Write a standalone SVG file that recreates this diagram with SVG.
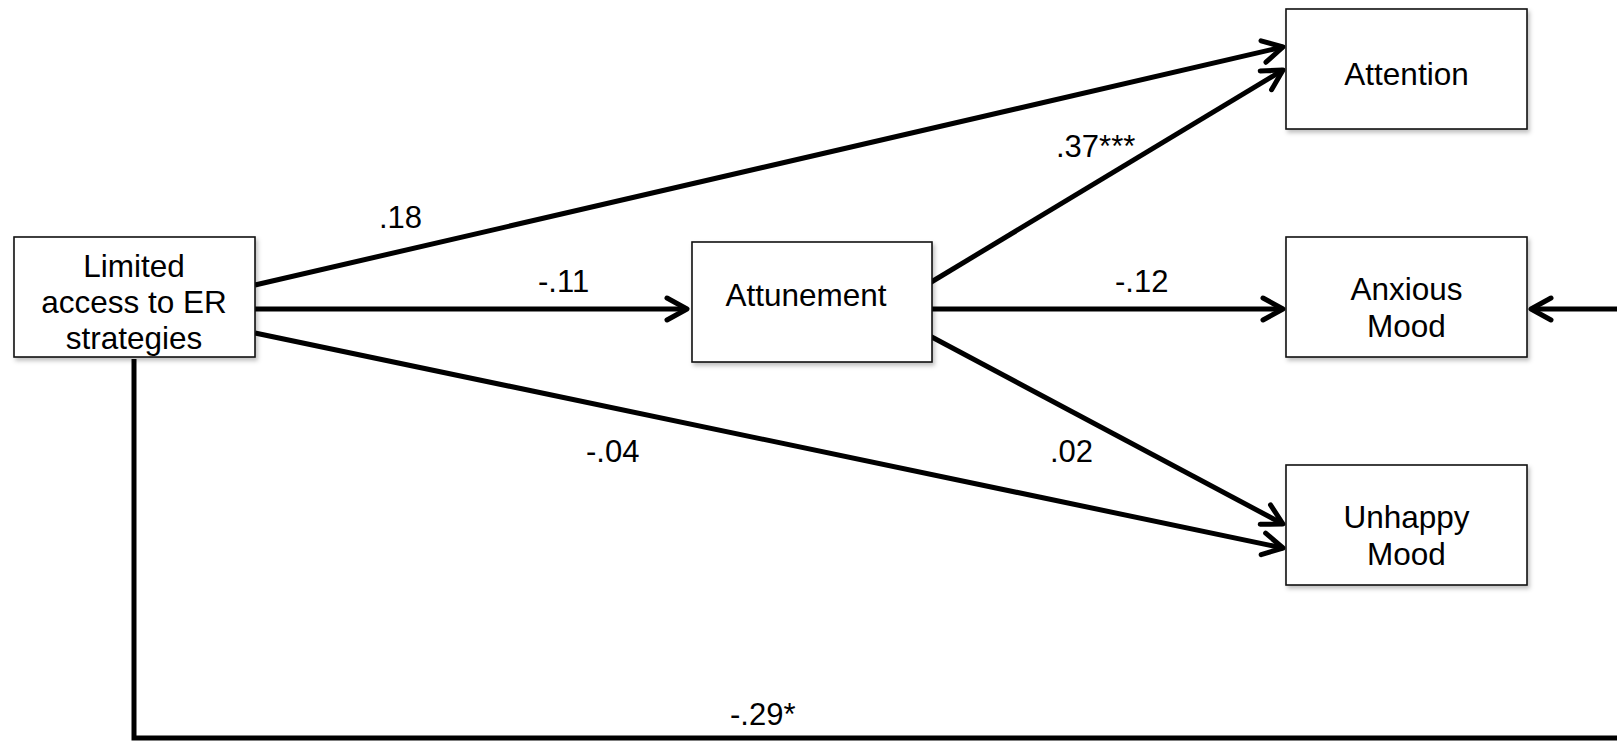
<svg xmlns="http://www.w3.org/2000/svg" width="1617" height="741" viewBox="0 0 1617 741">
<style>
.box{fill:#fff;stroke:#111;stroke-width:1.6;filter:url(#sh)}
.t{font-family:"Liberation Sans",Arial,sans-serif;font-size:31.5px;fill:#000;text-anchor:middle}
.l{font-family:"Liberation Sans",Arial,sans-serif;font-size:31px;fill:#000}
.c{fill:none;stroke:#000;stroke-width:5}
</style>
<defs>
<filter id="sh" x="-10%" y="-10%" width="130%" height="140%">
<feDropShadow dx="2" dy="3" stdDeviation="2" flood-color="#000" flood-opacity="0.25"/>
</filter>
<marker id="ah" markerUnits="userSpaceOnUse" markerWidth="30" markerHeight="30" viewBox="-24 -15 30 30" refX="0" refY="0" orient="auto">
<path d="M -20 -11 L 0 0 L -20 11" fill="none" stroke="#000" stroke-width="5" stroke-linecap="round" stroke-linejoin="round"/>
</marker>
</defs>
<rect width="1617" height="741" fill="#fff"/>
<g id="connectors">
<line class="c" x1="255" y1="285" x2="1283" y2="47" marker-end="url(#ah)"/>
<line class="c" x1="928" y1="284" x2="1283" y2="70" marker-end="url(#ah)"/>
<line class="c" x1="255" y1="309" x2="687" y2="309" marker-end="url(#ah)"/>
<line class="c" x1="928" y1="309" x2="1283" y2="309" marker-end="url(#ah)"/>
<line class="c" x1="1620" y1="309" x2="1531" y2="309" marker-end="url(#ah)"/>
<line class="c" x1="928" y1="335" x2="1283" y2="524" marker-end="url(#ah)"/>
<line class="c" x1="255" y1="333" x2="1283" y2="548" marker-end="url(#ah)"/>
<path class="c" d="M 134 359 L 134 738 L 1620 738"/>
<text class="l" x="379" y="228">.18</text>
<text class="l" x="538" y="292">-.11</text>
<text class="l" x="1056" y="157">.37***</text>
<text class="l" x="1115" y="292">-.12</text>
<text class="l" x="586" y="462">-.04</text>
<text class="l" x="1050" y="462">.02</text>
<text class="l" x="730" y="725">-.29*</text>
</g>
<g id="limited">
<rect class="box" x="14" y="237" width="241" height="120"/>
<text class="t" x="134" y="277">Limited</text>
<text class="t" x="134" y="313">access to ER</text>
<text class="t" x="134" y="349">strategies</text>
</g>
<g id="attunement">
<rect class="box" x="692" y="242" width="240" height="120"/>
<text class="t" x="806" y="306">Attunement</text>
</g>
<g id="attention">
<rect class="box" x="1286" y="9" width="241" height="120"/>
<text class="t" x="1406.5" y="85">Attention</text>
</g>
<g id="anxious">
<rect class="box" x="1286" y="237" width="241" height="120"/>
<text class="t" x="1406.5" y="300">Anxious</text>
<text class="t" x="1406.5" y="337">Mood</text>
</g>
<g id="unhappy">
<rect class="box" x="1286" y="465" width="241" height="120"/>
<text class="t" x="1406.5" y="528">Unhappy</text>
<text class="t" x="1406.5" y="565">Mood</text>
</g>
</svg>
